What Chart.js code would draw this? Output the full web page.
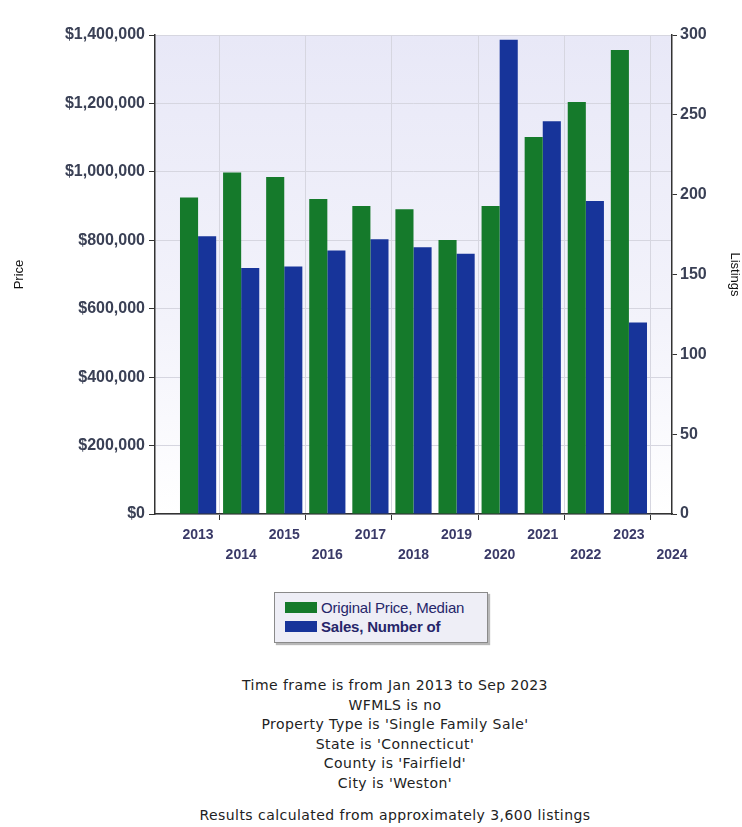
<!DOCTYPE html>
<html>
<head>
<meta charset="utf-8">
<script src="https://cdn.jsdelivr.net/npm/chart.js@4/dist/chart.umd.min.js"></script>
<style>
  body { margin: 0; background: #fff; width: 742px; height: 827px; position: relative; overflow: hidden; }
  #chart { position: absolute; left: 0; top: 0; }
  #legend {
    position: absolute; left: 274px; top: 592px; width: 212px; height: 49px;
    border: 1px solid #8a8a8a; background: #eeeef6;
    box-shadow: 2px 2px 1px #b8b8b8;
    font-family: "Liberation Sans", Arial, sans-serif; font-size: 15px; color: #26266a;
    letter-spacing: -0.2px;
  }
  #legend .item { position: absolute; left: 10px; height: 16px; line-height: 16px; }
  #legend .sw { display: inline-block; width: 32px; height: 11px; vertical-align: 0px; margin-right: 4px; }
  #notes {
    position: absolute; left: 0; width: 790px; top: 676px; text-align: center;
    font-family: "DejaVu Sans", Verdana, sans-serif; font-size: 14px; letter-spacing: 0.45px;
    color: #222; line-height: 19.6px;
  }
  #notes .last { margin-top: 12px; }
</style>
</head>
<body>
<canvas id="chart" width="742" height="575"></canvas>
<div id="legend"></div>
<div id="notes">
  <div>Time frame is from Jan 2013 to Sep 2023</div>
  <div>WFMLS is no</div>
  <div>Property Type is 'Single Family Sale'</div>
  <div>State is 'Connecticut'</div>
  <div>County is 'Fairfield'</div>
  <div>City is 'Weston'</div>
  <div class="last">Results calculated from approximately 3,600 listings</div>
</div>
<script>
// datos
const years = [2013, 2014, 2015, 2016, 2017, 2018, 2019, 2020, 2021, 2022, 2023];
const axisYears = [2012, ...years, 2024];
const medianPrice = [925000, 998000, 985000, 921000, 900000, 891000, 801000, 900000, 1102000, 1204000, 1356000];
const salesCount = [174, 154, 155, 165, 172, 167, 163, 297, 246, 196, 120];
const priceTicks = [0, 200000, 400000, 600000, 800000, 1000000, 1200000, 1400000];
const listingTicks = [0, 50, 100, 150, 200, 250, 300];

const pad = arr => [null, ...arr, null];

// fondo degradado del area del grafico
const plotBg = {
  id: 'plotBg',
  beforeDraw(chart) {
    const { ctx, chartArea: a } = chart;
    const g = ctx.createLinearGradient(0, a.top, 0, a.bottom);
    g.addColorStop(0, '#e8e8f7');
    g.addColorStop(0.6, '#f3f3fb');
    g.addColorStop(1, '#ffffff');
    ctx.save();
    ctx.fillStyle = g;
    ctx.fillRect(a.left, a.top, a.right - a.left, a.bottom - a.top);
    ctx.restore();
  }
};

const tickFont = { family: 'Liberation Sans, Arial', size: 16, weight: 'bold' };

const chart = new Chart(document.getElementById('chart'), {
  type: 'bar',
  data: {
    labels: axisYears.map(String),
    datasets: [{
      label: 'Original Price, Median',
      data: pad(medianPrice),
      backgroundColor: '#157a2b',
      yAxisID: 'y'
    }, {
      label: 'Sales, Number of',
      data: pad(salesCount),
      backgroundColor: '#17349a',
      yAxisID: 'y1'
    }]
  },
  options: {
    responsive: false,
    devicePixelRatio: 1,
    animation: false,
    layout: { padding: { top: 35, left: 0, right: 0, bottom: 0 } },
    plugins: { legend: { display: false }, tooltip: { enabled: false } },
    datasets: { bar: { categoryPercentage: 0.84, barPercentage: 1 } },
    scales: {
      x: {
        offset: false,
        afterFit: s => { s.height = 61; },
        border: { color: '#333', width: 1.5 },
        grid: {
          color: c => c.index % 2 === 0 ? '#d6d6e0' : 'transparent',
          tickColor: c => c.index % 2 === 0 ? '#333' : 'transparent',
          tickLength: 6
        },
        ticks: {
          autoSkip: false, maxRotation: 0, padding: 5,
          color: '#3a3a68',
          font: { family: 'Liberation Sans, Arial', size: 14, weight: 'bold', lineHeight: 1.45 },
          callback: function (v, i) {
            const yr = axisYears[i];
            if (yr === 2012) return '';
            return yr % 2 === 0 ? ['', String(yr)] : String(yr);
          }
        }
      },
      y: {
        position: 'left',
        min: 0, max: 1400000,
        afterFit: s => { s.width = 155; },
        afterBuildTicks: s => { s.ticks = priceTicks.map(v => ({ value: v })); },
        border: { color: '#333', width: 1.5 },
        grid: { color: '#d6d6e0', tickColor: '#333', tickLength: 6 },
        title: { display: true, text: 'Price', color: '#111', padding: { top: 12, bottom: 0 }, font: { family: 'Liberation Sans, Arial', size: 13 } },
        ticks: {
          padding: 4, color: '#3a4055', font: tickFont,
          callback: v => '$' + v.toLocaleString('en-US')
        }
      },
      y1: {
        position: 'right',
        min: 0, max: 300,
        afterFit: s => { s.width = 70; },
        afterBuildTicks: s => { s.ticks = listingTicks.map(v => ({ value: v })); },
        border: { color: '#333', width: 1.5 },
        grid: { drawOnChartArea: false, tickColor: '#333', tickLength: 5 },
        title: { display: true, text: 'Listings', color: '#111', padding: 0, font: { family: 'Liberation Sans, Arial', size: 13 } },
        ticks: { padding: 3, color: '#3a4055', font: tickFont }
      }
    }
  },
  plugins: [plotBg]
});

// leyenda en HTML
const legend = document.getElementById('legend');
chart.data.datasets.forEach((ds, i) => {
  const item = document.createElement('div');
  item.className = 'item';
  item.style.top = (7 + i * 19) + 'px';
  if (i === 1) item.style.fontWeight = 'bold';
  item.innerHTML = '<span class="sw" style="background:' + ds.backgroundColor + '"></span>' + ds.label;
  legend.appendChild(item);
});
</script>
</body>
</html>
